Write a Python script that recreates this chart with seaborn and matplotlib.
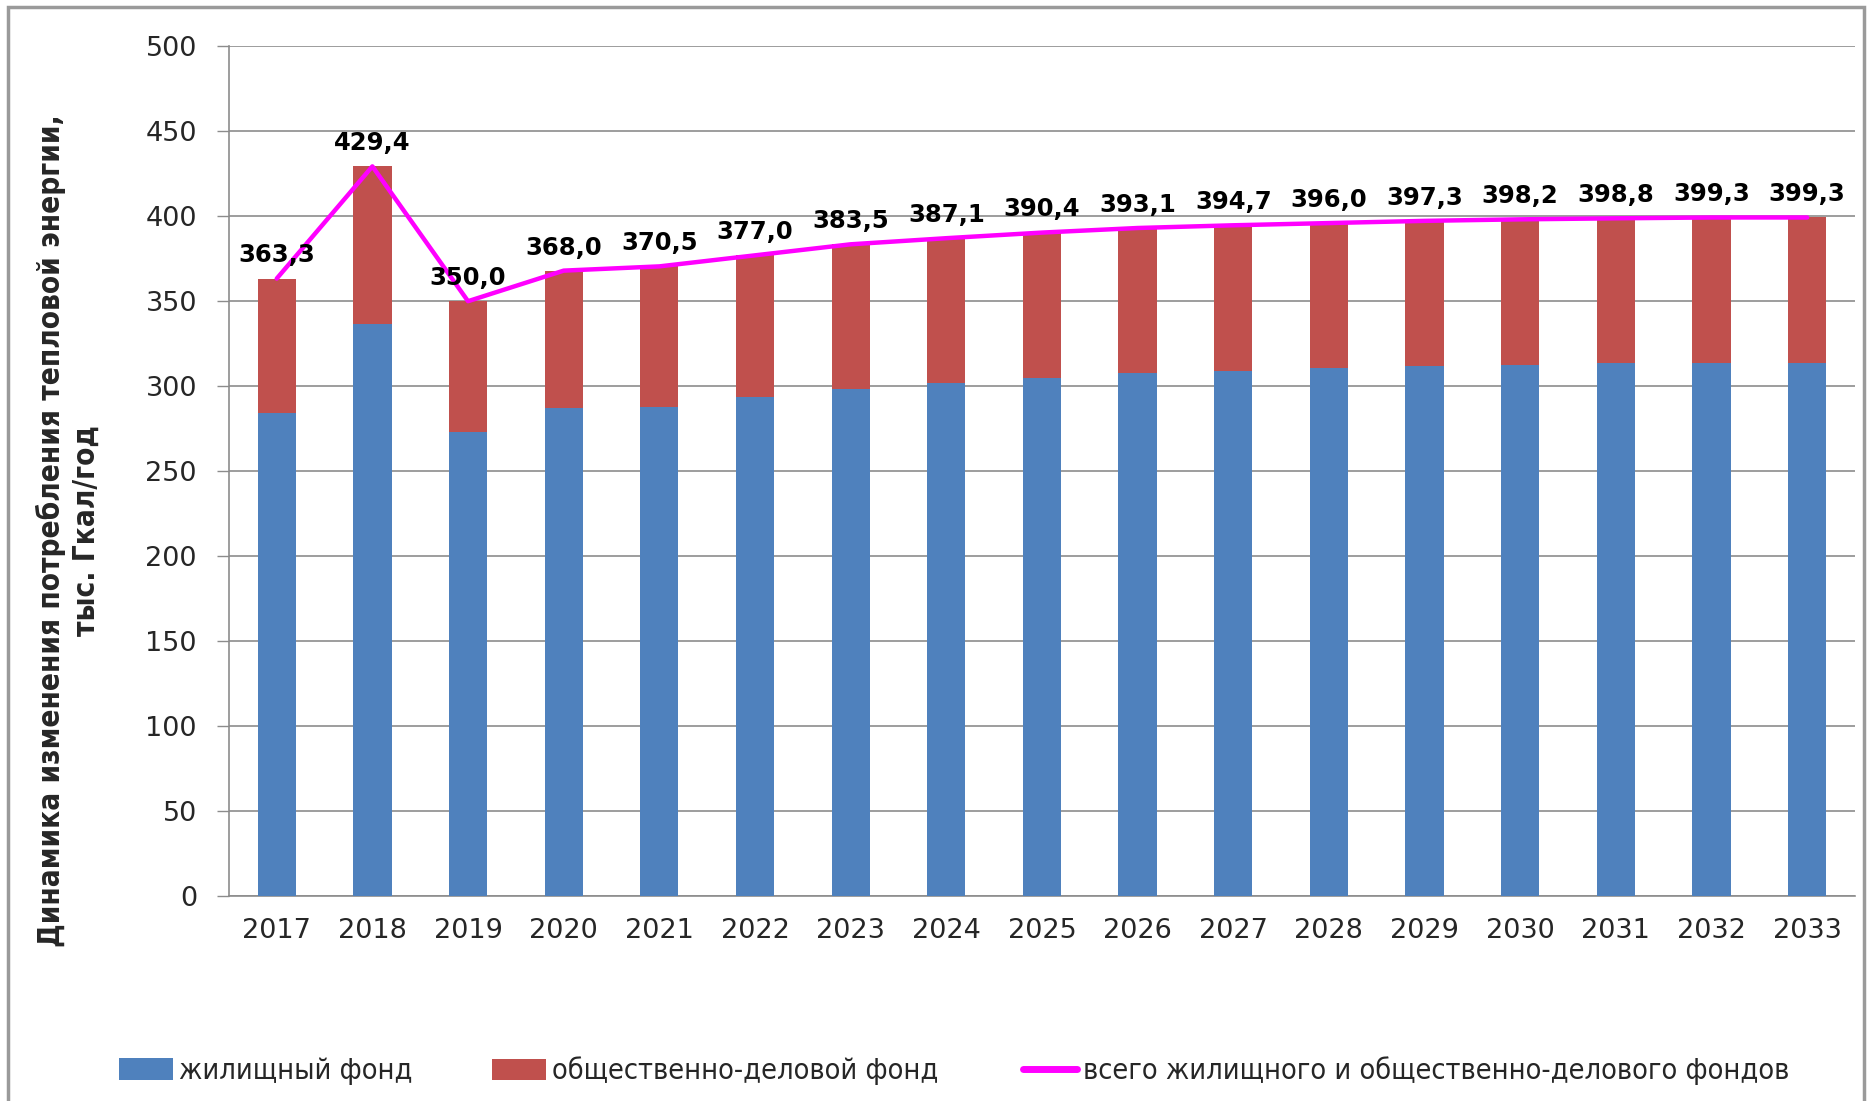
import matplotlib
matplotlib.use("Agg")
import matplotlib.pyplot as plt
import seaborn as sns
import pandas as pd
import numpy as np
from matplotlib.patches import Rectangle
from matplotlib.lines import Line2D

years = ["2017", "2018", "2019", "2020", "2021", "2022", "2023", "2024", "2025",
         "2026", "2027", "2028", "2029", "2030", "2031", "2032", "2033"]
residential = [284.4, 336.6, 272.9, 287.0, 287.8, 293.5, 298.5, 301.7, 305.0,
               307.6, 309.1, 310.9, 311.9, 312.5, 313.5, 313.5, 313.5]
total = [363.3, 429.4, 350.0, 368.0, 370.5, 377.0, 383.5, 387.1, 390.4,
         393.1, 394.7, 396.0, 397.3, 398.2, 398.8, 399.3, 399.3]
total_labels = ["363,3", "429,4", "350,0", "368,0", "370,5", "377,0", "383,5", "387,1", "390,4",
                "393,1", "394,7", "396,0", "397,3", "398,2", "398,8", "399,3", "399,3"]
y_ticks = [0, 50, 100, 150, 200, 250, 300, 350, 400, 450, 500]

legend_labels = ["жилищный фонд", "общественно-деловой фонд",
                 "всего жилищного и общественно-делового фондов"]
ylabel = "Динамика изменения потребления тепловой энергии,\nтыс. Гкал/год"

BLUE = "#4F81BD"
RED = "#C0504D"
MAG = "#FF00FF"
GRID = "#8C8C8C"

sns.set_theme(style="white")
plt.rcParams['font.family'] = ['DejaVu Sans']

df = pd.DataFrame({"year": years, "res": residential, "total": total})
df["idx"] = np.arange(len(years))

W, H = 1870, 1101
fig = plt.figure(figsize=(W / 100, H / 100), dpi=100)
ax = fig.add_axes([0.1224, 0.1866, 0.8696, 0.7712])

sns.barplot(data=df, x="year", y="total", color=RED, width=0.4, saturation=1,
            ax=ax, edgecolor="none", zorder=2)
sns.barplot(data=df, x="year", y="res", color=BLUE, width=0.4, saturation=1,
            ax=ax, edgecolor="none", zorder=3)
sns.lineplot(data=df, x="idx", y="total", color=MAG, linewidth=3.2, ax=ax,
             zorder=4, sort=False)

for i, (v, s) in enumerate(zip(total, total_labels)):
    ax.annotate(s, (i, v), xytext=(0, 8), textcoords="offset points",
                ha="center", va="bottom", fontsize=17.5, fontweight="bold",
                color="black", zorder=5)

ax.set_xlim(-0.5, len(years) - 0.5)
ax.set_ylim(0, 500)
ax.set_yticks(y_ticks)
ax.set_yticklabels([str(t) for t in y_ticks], fontsize=19.5)
ax.set_xticks(range(len(years)))
ax.set_xticklabels(years, fontsize=19.5)
ax.set_xticks(np.arange(-0.5, len(years), 1.0), minor=True)
ax.tick_params(axis="x", which="major", length=0, pad=16)
ax.tick_params(axis="x", which="minor", length=9, width=1, color=GRID, direction="out")
ax.tick_params(axis="y", which="major", length=9, width=1, color=GRID, direction="out", pad=14, left=True)
ax.yaxis.grid(True, color=GRID, linewidth=1.2, zorder=0)
ax.xaxis.grid(False)
ax.set_axisbelow(True)
for side in ["top", "right"]:
    ax.spines[side].set_visible(False)
for side in ["left", "bottom"]:
    ax.spines[side].set_color(GRID)
    ax.spines[side].set_linewidth(1.2)
ax.set_xlabel("")
ax.set_ylabel("")

# y-axis title, condensed bold, fitted to reference length
ytxt = fig.text(68 / W, 1 - 531 / H, ylabel, rotation=90, ha="center", va="center",
                fontsize=20, fontweight="bold", fontstretch="condensed",
                linespacing=1.25, multialignment="center")
fig.canvas.draw()
r = fig.canvas.get_renderer()
bb = ytxt.get_window_extent(r)
ytxt.set_fontsize(20 * 835 / bb.height)

# legend entries placed individually
leg_fs = 20
entries = [
    (Rectangle((0, 0), 1, 1, facecolor=BLUE, edgecolor="none"), legend_labels[0], 119),
    (Rectangle((0, 0), 1, 1, facecolor=RED, edgecolor="none"), legend_labels[1], 492),
    (Line2D([0], [0], color=MAG, linewidth=5), legend_labels[2], 1023),
]
legs = []
for h, lab, x0 in entries:
    lg = fig.legend([h], [lab], loc="center left", bbox_to_anchor=(x0 / W, 1 - 1071 / H),
                    frameon=False, borderpad=0, borderaxespad=0,
                    handlelength=54 / (leg_fs * 1.389), handleheight=0.75,
                    handletextpad=0.2,
                    prop={"size": leg_fs, "stretch": "condensed"})
    legs.append(lg)
fig.canvas.draw()
tw = legs[2].get_texts()[0].get_window_extent(r).width
scale = 704 / tw
new_fs = leg_fs * scale
for lg in legs:
    lg.remove()
for h, lab, x0 in entries:
    fig.legend([h], [lab], loc="center left", bbox_to_anchor=(x0 / W, 1 - 1071 / H),
               frameon=False, borderpad=0, borderaxespad=0,
               handlelength=54 / (new_fs * 1.389), handleheight=0.75,
               handletextpad=6 / (new_fs * 1.389),
               prop={"size": new_fs, "stretch": "condensed"})

fig.patches.append(Rectangle((0.0045, -0.02), 0.9925, 1.0135, transform=fig.transFigure,
                             fill=False, edgecolor="#9A9A9A", linewidth=2.5))

fig.savefig("out.png", dpi=100, facecolor="white")
